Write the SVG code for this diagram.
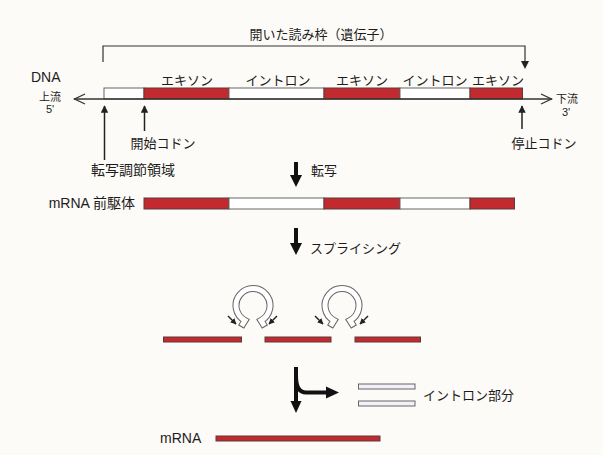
<svg xmlns="http://www.w3.org/2000/svg" width="603" height="455" viewBox="0 0 603 455">
  <style>
    text { font-family: "Liberation Sans", "Noto Sans CJK JP", sans-serif; fill: #1c1c1c; }
    .lbl { font-size: 13px; }
    .big { font-size: 14px; }
    .sm { font-size: 11px; }
    .exon { fill: #c22a30; stroke: #5a3a3a; stroke-width: 1; }
    .intron { fill: #ffffff; stroke: #666; stroke-width: 1; }
    .cut { fill: #f3f0f8; stroke: #666; stroke-width: 1; }
    .thin { fill: none; stroke: #222; stroke-width: 1.5; }
    .thick { fill: none; stroke: #111; stroke-width: 4; }
    .head { fill: #111; }
    .ringOut { fill: none; stroke: #666; stroke-width: 7; stroke-linejoin: miter; }
    .ringIn { fill: none; stroke: #ffffff; stroke-width: 5; stroke-linejoin: miter; }
  </style>
  <defs>
    <marker id="tri" viewBox="0 0 10 10" refX="9" refY="5" markerWidth="5" markerHeight="5" orient="auto">
      <path d="M0,0 L10,5 L0,10 Z" fill="#222"/>
    </marker>
    <marker id="tiny" viewBox="0 0 10 10" refX="9" refY="5" markerWidth="4" markerHeight="4" orient="auto">
      <path d="M0,0 L10,5 L0,10 Z" fill="#222"/>
    </marker>
  </defs>

  <rect width="603" height="455" fill="#fcfbf7"/>

  <!-- open reading frame title -->
  <g id="orf">
    <text class="lbl" x="321" y="39" text-anchor="middle">開いた読み枠（遺伝子）</text>
  </g>

  <!-- DNA strand -->
  <g id="dna">
    <text class="big" x="31" y="82">DNA</text>
    <rect class="intron" x="104" y="88" width="40" height="11"/>
    <rect class="exon" x="144" y="88" width="85" height="11"/>
    <rect class="intron" x="229" y="88" width="95" height="11"/>
    <rect class="exon" x="324" y="88" width="76" height="11"/>
    <rect class="intron" x="400" y="88" width="70" height="11"/>
    <rect class="exon" x="470" y="88" width="52.5" height="11"/>
    <text class="lbl" x="187" y="85" text-anchor="middle">エキソン</text>
    <text class="lbl" x="278" y="85" text-anchor="middle">イントロン</text>
    <text class="lbl" x="362" y="85" text-anchor="middle">エキソン</text>
    <text class="lbl" x="435" y="85" text-anchor="middle">イントロン</text>
    <text class="lbl" x="498" y="85" text-anchor="middle">エキソン</text>
    <text class="sm" x="50" y="101" text-anchor="middle">上流</text>
    <text class="sm" x="50" y="113" text-anchor="middle">5'</text>
    <text class="sm" x="567" y="103" text-anchor="middle">下流</text>
    <text class="sm" x="566" y="116" text-anchor="middle">3'</text>
  </g>

  <!-- site labels -->
  <g id="start-codon">
    <text class="lbl" x="163" y="148" text-anchor="middle">開始コドン</text>
  </g>
  <g id="regulatory-region">
    <text class="big" x="133" y="175" text-anchor="middle">転写調節領域</text>
  </g>
  <g id="stop-codon">
    <text class="lbl" x="544" y="148" text-anchor="middle">停止コドン</text>
  </g>

  <!-- step labels -->
  <g id="transcription">
    <text class="lbl" x="311" y="175">転写</text>
  </g>
  <g id="splicing-label">
    <text class="lbl" x="310" y="253">スプライシング</text>
  </g>

  <!-- pre-mRNA -->
  <g id="pre-mrna">
    <text class="big" x="135" y="208" text-anchor="end">mRNA 前駆体</text>
    <rect class="exon" x="144" y="198" width="85" height="11"/>
    <rect class="intron" x="229" y="198" width="95" height="11"/>
    <rect class="exon" x="324" y="198" width="76" height="11"/>
    <rect class="intron" x="400" y="198" width="70" height="11"/>
    <rect class="exon" x="470" y="198" width="44.5" height="11"/>
  </g>

  <!-- splicing: exons with intron loops -->
  <g id="splicing">
    <rect class="exon" x="163.5" y="337" width="78" height="5"/>
    <rect class="exon" x="265" y="337" width="66" height="5"/>
    <rect class="exon" x="355" y="337" width="65.5" height="5"/>
    <path class="ringOut" d="M241,327 L245,320.5 A17,17 0 1 1 261,320.5 L265,327"/>
    <path class="ringIn" d="M241.6,326 L245,320.5 A17,17 0 1 1 261,320.5 L264.4,326"/>
    <path class="ringOut" d="M330,327 L334,320.5 A17,17 0 1 1 350,320.5 L354,327"/>
    <path class="ringIn" d="M330.6,326 L334,320.5 A17,17 0 1 1 350,320.5 L353.4,326"/>
  </g>

  <!-- excised introns -->
  <g id="excised-introns">
    <rect class="cut" x="358.5" y="384" width="56.5" height="5"/>
    <rect class="cut" x="358.5" y="401" width="56.5" height="5"/>
    <text class="lbl" x="423" y="400">イントロン部分</text>
  </g>

  <!-- mature mRNA -->
  <g id="mrna">
    <text class="big" x="160" y="443">mRNA</text>
    <rect class="exon" x="216" y="436" width="164" height="5"/>
  </g>

  <!-- connectors -->
  <g id="connectors">
    <!-- ORF bracket -->
    <polyline points="103,62 103,46 525,46 525,62" fill="none" stroke="#333" stroke-width="1.2"/>
    <path d="M521,61 L529,61 L525,69 Z" fill="#222"/>
    <!-- DNA axis with open arrowheads -->
    <line x1="74" y1="99" x2="552" y2="99" stroke="#333" stroke-width="1.3"/>
    <polyline points="85,94 74.5,99 85,104" fill="none" stroke="#333" stroke-width="1.3"/>
    <polyline points="541,94 551.5,99 541,104" fill="none" stroke="#333" stroke-width="1.3"/>
    <!-- site pointers -->
    <line class="thin" x1="104.5" y1="160" x2="104.5" y2="106" marker-end="url(#tri)"/>
    <line class="thin" x1="144.5" y1="131" x2="144.5" y2="106" marker-end="url(#tri)"/>
    <line class="thin" x1="522" y1="129" x2="522" y2="106" marker-end="url(#tri)"/>
    <!-- transcription -->
    <line class="thick" x1="296" y1="162" x2="296" y2="177"/>
    <path class="head" d="M290,175 L302,175 L296,187 Z"/>
    <!-- splicing -->
    <line class="thick" x1="296" y1="228" x2="296" y2="245"/>
    <path class="head" d="M290,243 L302,243 L296,255 Z"/>
    <!-- splice-site pointers -->
    <line class="thin" x1="228" y1="316" x2="236" y2="324" marker-end="url(#tiny)"/>
    <line class="thin" x1="277" y1="316" x2="269" y2="324" marker-end="url(#tiny)"/>
    <line class="thin" x1="315" y1="316" x2="323" y2="324" marker-end="url(#tiny)"/>
    <line class="thin" x1="368" y1="316" x2="360" y2="324" marker-end="url(#tiny)"/>
    <!-- split: mRNA down, introns right -->
    <line class="thick" x1="296" y1="367" x2="296" y2="403"/>
    <path class="head" d="M290.5,401 L301.5,401 L296,413 Z"/>
    <path class="thick" d="M296,376 Q296,392.5 306,392.5 L328,392.5"/>
    <path class="head" d="M326,386.5 L339,392.5 L326,398.5 Z"/>
  </g>
</svg>
